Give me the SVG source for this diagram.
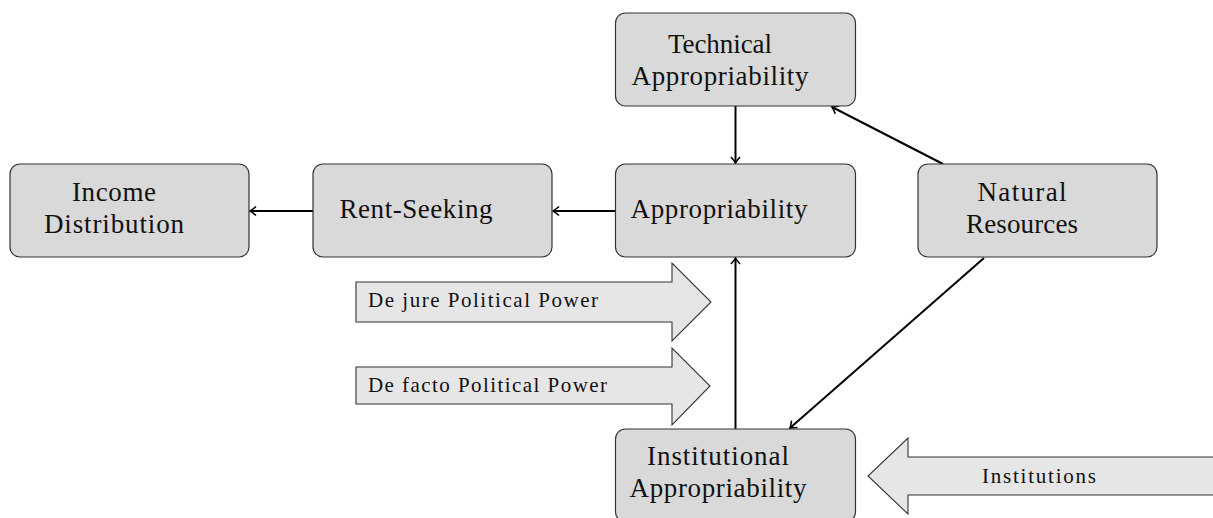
<svg xmlns="http://www.w3.org/2000/svg" width="1213" height="518" viewBox="0 0 1213 518">
<style>
.box{fill:#d9d9d9;stroke:#333;stroke-width:1.2}
.big{fill:#e6e6e6;stroke:#333;stroke-width:1.1}
.t{font-family:"Liberation Serif","Times New Roman",serif;font-size:27px;fill:#111}
.s{font-family:"Liberation Serif","Times New Roman",serif;font-size:21px;fill:#111}
.c{stroke:#000;stroke-width:2;fill:none;marker-end:url(#ah)}
</style>
<defs>
<marker id="ah" viewBox="-8 -6 10 12" markerWidth="10" markerHeight="12" refX="0" refY="0" orient="auto" markerUnits="userSpaceOnUse">
<path d="M-6,-4.5 Q-2,-1 0,0 Q-2,1 -6,4.5" fill="none" stroke="#000" stroke-width="1.6"/>
</marker>
</defs>
<rect width="1213" height="518" fill="#fff"/>
<g id="connectors">
<line class="c" x1="735.5" y1="106" x2="735.5" y2="163"/>
<line class="c" x1="943" y1="164" x2="832" y2="107"/>
<line class="c" x1="615" y1="211" x2="553" y2="211"/>
<line class="c" x1="313" y1="211" x2="250" y2="211"/>
<line class="c" x1="735.5" y1="429" x2="735.5" y2="258"/>
<line class="c" x1="984" y1="258" x2="790" y2="428"/>
</g>
<g id="technical">
<rect class="box" x="615.5" y="13" width="240" height="93" rx="10"/>
<text class="t" x="720" y="53" text-anchor="middle" textLength="104">Technical</text>
<text class="t" x="720" y="85" text-anchor="middle" textLength="177">Appropriability</text>
</g>
<g id="income">
<rect class="box" x="10" y="164" width="239" height="93" rx="10"/>
<text class="t" x="114" y="201" text-anchor="middle" textLength="84">Income</text>
<text class="t" x="114" y="233" text-anchor="middle" textLength="140">Distribution</text>
</g>
<g id="rentseeking">
<rect class="box" x="313" y="164" width="239" height="93" rx="10"/>
<text class="t" x="416" y="218" text-anchor="middle" textLength="153">Rent-Seeking</text>
</g>
<g id="appropriability">
<rect class="box" x="615.5" y="164" width="240" height="93" rx="10"/>
<text class="t" x="719" y="218" text-anchor="middle" textLength="177">Appropriability</text>
</g>
<g id="natural">
<rect class="box" x="918" y="164" width="239" height="93" rx="10"/>
<text class="t" x="1022" y="201" text-anchor="middle" textLength="89">Natural</text>
<text class="t" x="1022" y="233" text-anchor="middle" textLength="112">Resources</text>
</g>
<g id="institutional">
<rect class="box" x="615.5" y="429" width="240" height="93" rx="10"/>
<text class="t" x="718" y="465" text-anchor="middle" textLength="142">Institutional</text>
<text class="t" x="718" y="497" text-anchor="middle" textLength="177">Appropriability</text>
</g>
<g id="dejure">
<path class="big" d="M356,282 H672 V263 L711,302 L672,341 V322 H356 Z"/>
<text class="s" x="368" y="307" textLength="230">De jure Political Power</text>
</g>
<g id="defacto">
<path class="big" d="M356,367 H672 V348 L710,386 L672,425 V404 H356 Z"/>
<text class="s" x="368" y="392" textLength="239">De facto Political Power</text>
</g>
<g id="institutions">
<path class="big" d="M1215,457 H908 V438 L868,476 L908,514 V495 H1215 Z"/>
<text class="s" x="982" y="483" textLength="114">Institutions</text>
</g>
</svg>
